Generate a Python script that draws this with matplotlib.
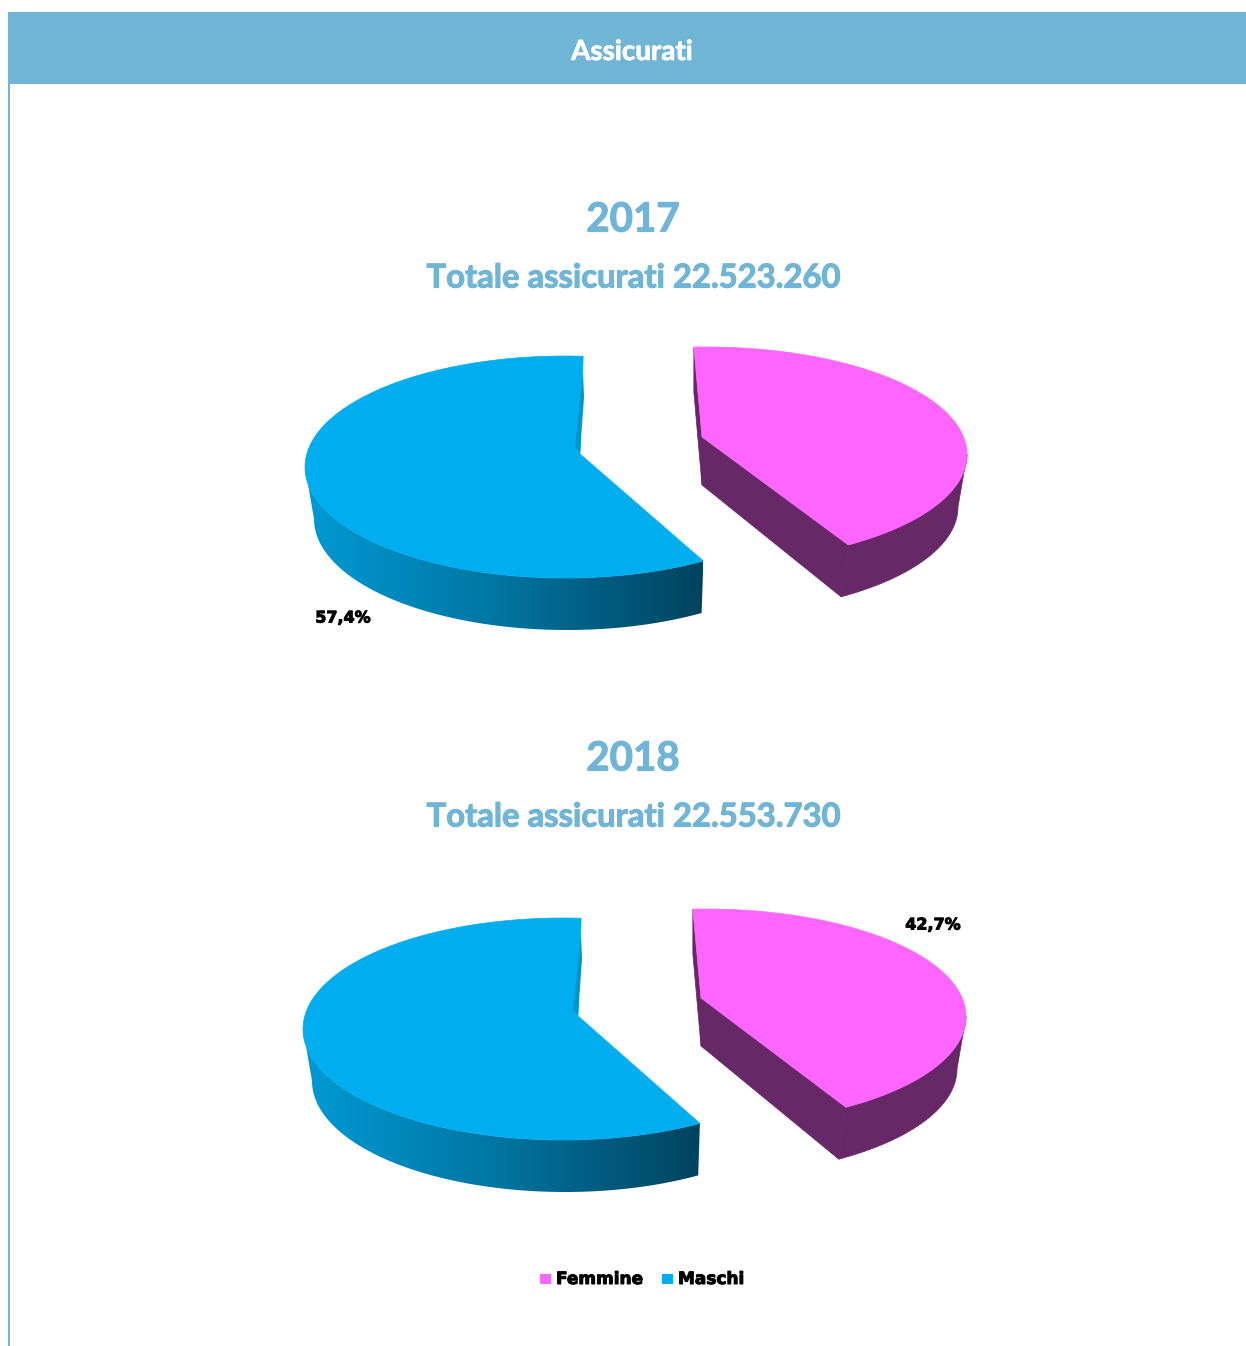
import numpy as np
import matplotlib
matplotlib.use("Agg")
import matplotlib.pyplot as plt
import matplotlib.patheffects as pe
from matplotlib.colors import LinearSegmentedColormap
from matplotlib.patches import Polygon, Rectangle

years = ["2017", "2018"]
totals = ["22.523.260", "22.553.730"]
femmine = [42.6, 42.7]
maschi = [57.4, 57.3]

HEAD = "#70B5D6"
PINK = "#FF66FF"
PINK_DARK = "#662866"
BLUE = "#00AEEF"
BLUE_SLIVER = "#0095CC"

# the source pie is in perspective, so slices are not quite true to their share
BLUE_STRETCH = 1.046
PINK_STRETCH = 0.978

fig = plt.figure(figsize=(12.46, 13.46), dpi=100)
ax = fig.add_axes([0, 0, 1, 1])
ax.set_xlim(0, 1246)
ax.set_ylim(1346, 0)
ax.axis("off")

blue_cmap = LinearSegmentedColormap.from_list("side", ["#009AD4", "#0074A0", "#00435E"])
heavy = [pe.withStroke(linewidth=0.7, foreground="black")]
heavy_head = [pe.withStroke(linewidth=0.8, foreground=HEAD)]
heavy_white = [pe.withStroke(linewidth=0.5, foreground="white")]


def arc(cx, cy, rx, ry, t0, t1):
    t = np.radians(np.linspace(t0, t1, 200))
    return np.column_stack([cx + rx * np.cos(t), cy - ry * np.sin(t)])


def draw_maschi(share, dx, dy):
    t0 = 86
    t1 = t0 + share * 3.6 * BLUE_STRETCH
    top = arc(565 + dx, 467 + dy, 260, 111, t0, t1)
    # side wall only shows from the left extreme round to the cut
    side_top = arc(565 + dx, 467 + dy, 260, 111, 180, t1)
    side_low = arc(567 + dx, 519 + dy, 253, 111, 180, t1)
    body = np.vstack([side_top, side_low[::-1]])
    patch = Polygon(body, closed=True, fc="none", ec="none")
    ax.add_patch(patch)
    x0, x1 = 305 + dx, 703 + dx
    grad = np.linspace(0, 1, 256).reshape(1, -1)
    im = ax.imshow(grad, cmap=blue_cmap, extent=[x0, x1, 660 + dy, 440 + dy],
                   aspect="auto", zorder=2)
    im.set_clip_path(patch)
    ax.set_xlim(0, 1246)
    ax.set_ylim(1346, 0)
    apex = [580 + dx, 454 + dy]
    ax.add_patch(Polygon(np.vstack([apex, top]), closed=True, fc=BLUE, ec=BLUE, lw=0.5, zorder=3))
    sliver = np.array([[583, 372], [584, 397], [580, 453], [575, 447]]) + [dx, dy]
    ax.add_patch(Polygon(sliver, closed=True, fc=BLUE_SLIVER, ec="none", zorder=4))


def draw_femmine(share, dx, dy, apex_dy):
    t0 = 92.9
    t1 = t0 - share * 3.6 * PINK_STRETCH
    top = arc(707 + dx, 454.6 + dy, 260, 107.6, t0, t1)
    side_top = arc(707 + dx, 454.6 + dy, 260, 107.6, 0, t1)
    side_low = arc(702 + dx, 507 + dy, 256, 107, 0, t1)
    apex = np.array([702 + dx, 437 + apex_dy])
    apex_low = np.array([702 + dx, 485 + apex_dy])
    body = np.vstack([side_top, side_low[::-1]])
    ax.add_patch(Polygon(body, closed=True, fc=PINK_DARK, ec=PINK_DARK, lw=0.5, zorder=2))
    wall = np.vstack([apex, side_top[-1], side_low[-1], apex_low])
    ax.add_patch(Polygon(wall, closed=True, fc=PINK_DARK, ec=PINK_DARK, lw=0.5, zorder=2))
    edge = np.vstack([apex, top[0], top[0] + [0, 45], apex_low])
    ax.add_patch(Polygon(edge, closed=True, fc=PINK_DARK, ec=PINK_DARK, lw=0.5, zorder=2))
    ax.add_patch(Polygon(np.vstack([apex, top]), closed=True, fc=PINK, ec=PINK, lw=0.5, zorder=3))


# header band and left rule
ax.add_patch(Rectangle((8, 12), 1238, 72, fc=HEAD, ec="none"))
ax.add_patch(Rectangle((8, 84), 2, 1262, fc=HEAD, ec="none"))
ax.text(632, 52, "Assicurati", color="white", fontsize=20, fontweight="bold",
        family="Lato", ha="center", va="center", path_effects=heavy_white)

title_y = [220, 759]
sub_y = [278, 817]
blue_off = [(0, 0), (-2, 562)]
pink_off = [(0, 0), (-1, 562)]
apex_off = [0, 561]
for i, year in enumerate(years):
    ax.text(633, title_y[i], year, color=HEAD, fontsize=29, fontweight="bold",
            family="Lato", ha="center", va="center", path_effects=heavy_head)
    ax.text(633, sub_y[i], "Totale assicurati " + totals[i], color=HEAD, fontsize=23.6,
            fontweight="bold", family="Lato", ha="center", va="center", path_effects=heavy_head)
    draw_maschi(maschi[i], *blue_off[i])
    draw_femmine(femmine[i], *pink_off[i], apex_off[i])

ax.text(343, 618, f"{maschi[0]:.1f}%".replace(".", ","), fontsize=11.5, fontweight="bold",
        color="black", ha="center", va="center", zorder=5, path_effects=heavy)
ax.text(933, 925, f"{femmine[1]:.1f}%".replace(".", ","), fontsize=11.5, fontweight="bold",
        color="black", ha="center", va="center", zorder=5, path_effects=heavy)

# legend
ax.add_patch(Rectangle((540, 1274), 11, 10, fc=PINK, ec="none"))
ax.text(556, 1279, "Femmine", fontsize=12.2, fontweight="bold", color="black", va="center",
        path_effects=heavy)
ax.add_patch(Rectangle((662, 1274), 11, 10, fc=BLUE, ec="none"))
ax.text(678, 1279, "Maschi", fontsize=12.2, fontweight="bold", color="black", va="center",
        path_effects=heavy)

fig.savefig("out.png", dpi=100, facecolor="white")
